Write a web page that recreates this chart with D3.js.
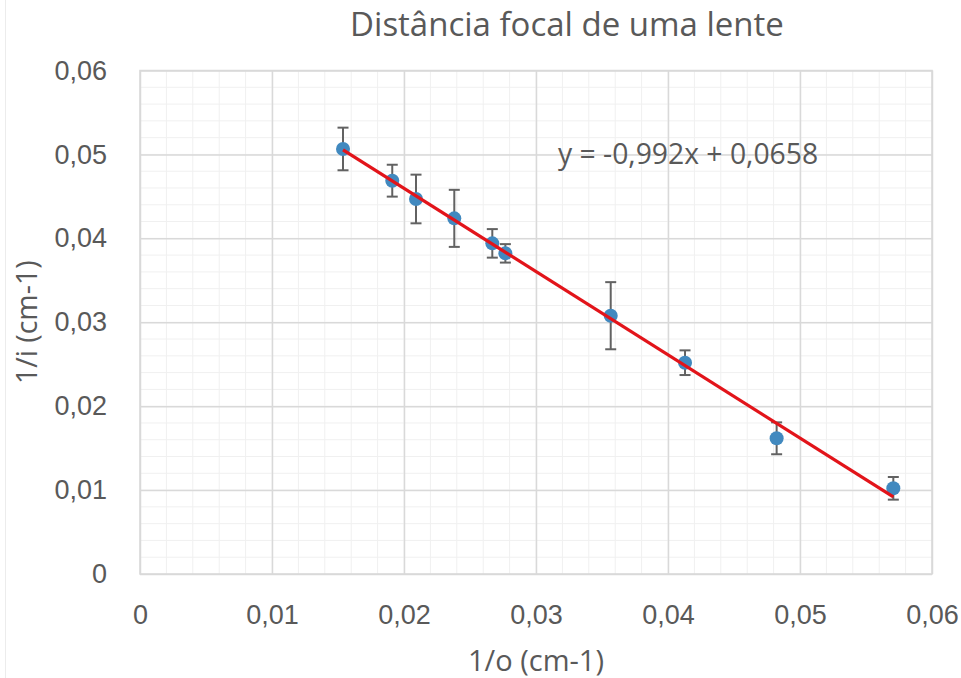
<!DOCTYPE html>
<html>
<head>
<meta charset="utf-8">
<script src="https://cdn.jsdelivr.net/npm/d3@7"></script>
<style>
  html, body { margin: 0; padding: 0; background: #fff; }
  svg { display: block; font-family: "Open Sans", "Noto Sans", sans-serif; }
</style>
</head>
<body>
<svg id="chart" width="961" height="678"></svg>
<script>
// Measurements: object distance inverse (1/o) vs image distance inverse (1/i)
const invObject = [0.01538, 0.01911, 0.02091, 0.02381, 0.02669, 0.02768, 0.03566, 0.04129, 0.04823, 0.05707];
const invImage  = [0.05065, 0.04687, 0.04469, 0.04238, 0.03940, 0.03821, 0.03078, 0.02518, 0.01617, 0.01021];
const invImageErr = [0.00254, 0.0019, 0.0029, 0.0034, 0.0017, 0.0011, 0.0040, 0.00147, 0.0019, 0.00135];

// Linear fit reported on the chart
const slope = -0.992;
const intercept = 0.0658;

const xTicks = [0, 0.01, 0.02, 0.03, 0.04, 0.05, 0.06];
const yTicks = [0, 0.01, 0.02, 0.03, 0.04, 0.05, 0.06];

const titleText = "Distância focal de uma lente";
const xTitle = "1/o (cm-1)";
const yTitle = "1/i (cm-1)";
const eqText = "y = -0,992x + 0,0658";

const svg = d3.select("#chart");
const W = 961, H = 678;
const margin = { left: 140, right: 961 - 932, top: 70.5, bottom: 678 - 574 };

const x = d3.scaleLinear().domain([0, 0.06]).range([margin.left, W - margin.right]);
const y = d3.scaleLinear().domain([0, 0.06]).range([H - margin.bottom, margin.top]);

const fmt = v => v === 0 ? "0" : d3.format(".2f")(v).replace(".", ",");
const textColor = "#595959";
const labelSize = "27px";

// faint frame edge on the left
svg.append("line").attr("x1", 5.5).attr("x2", 5.5).attr("y1", 0).attr("y2", H)
  .attr("stroke", "#ececec").attr("stroke-width", 1);

// minor grid
const minor = d3.range(0, 0.0601, 0.002);
const grid = svg.append("g");
grid.selectAll(".mx").data(minor).join("line")
  .attr("x1", d => x(d)).attr("x2", d => x(d))
  .attr("y1", y(0)).attr("y2", y(0.06))
  .attr("stroke", "#f0f0f0").attr("stroke-width", 1);
grid.selectAll(".my").data(minor).join("line")
  .attr("x1", x(0)).attr("x2", x(0.06))
  .attr("y1", d => y(d)).attr("y2", d => y(d))
  .attr("stroke", "#f0f0f0").attr("stroke-width", 1);

// major grid via axes
const xAxis = d3.axisBottom(x).tickValues(xTicks).tickFormat(fmt).tickSize(-(y(0) - y(0.06)));
const yAxis = d3.axisLeft(y).tickValues(yTicks).tickFormat(fmt).tickSize(-(x(0.06) - x(0))).tickPadding(33);

const gx = svg.append("g").attr("transform", `translate(0,${y(0)})`).call(xAxis);
const gy = svg.append("g").attr("transform", `translate(${x(0)},0)`).call(yAxis);
[gx, gy].forEach(g => {
  g.select(".domain").remove();
  g.selectAll(".tick line").attr("stroke", "#d9d9d9").attr("stroke-width", 1.5);
  g.selectAll(".tick text").attr("fill", textColor).style("font-size", labelSize);
});
gx.selectAll(".tick text").attr("y", 41).attr("dy", "0.35em");

// plot border
svg.append("rect")
  .attr("x", x(0)).attr("y", y(0.06))
  .attr("width", x(0.06) - x(0)).attr("height", y(0) - y(0.06))
  .attr("fill", "none").attr("stroke", "#d9d9d9").attr("stroke-width", 1.5);

const data = invObject.map((v, i) => ({ x: v, y: invImage[i], e: invImageErr[i] }));

// error bars
const eb = svg.append("g").attr("stroke", "#626262").attr("stroke-width", 2);
const cap = 5.5;
data.forEach(d => {
  eb.append("line").attr("x1", x(d.x)).attr("x2", x(d.x)).attr("y1", y(d.y + d.e)).attr("y2", y(d.y - d.e));
  eb.append("line").attr("x1", x(d.x) - cap).attr("x2", x(d.x) + cap).attr("y1", y(d.y + d.e)).attr("y2", y(d.y + d.e));
  eb.append("line").attr("x1", x(d.x) - cap).attr("x2", x(d.x) + cap).attr("y1", y(d.y - d.e)).attr("y2", y(d.y - d.e));
});

// markers
svg.append("g").selectAll("circle").data(data).join("circle")
  .attr("cx", d => x(d.x)).attr("cy", d => y(d.y)).attr("r", 7)
  .attr("fill", "#4189bf");

// trend line across the measured range
const xMin = d3.min(invObject), xMax = d3.max(invObject);
svg.append("line")
  .attr("x1", x(xMin)).attr("y1", y(slope * xMin + intercept))
  .attr("x2", x(xMax)).attr("y2", y(slope * xMax + intercept))
  .attr("stroke", "#e2141a").attr("stroke-width", 3.3);

// equation label
svg.append("text").attr("x", 558).attr("y", 164)
  .attr("fill", textColor).style("font-size", "28.3px").text(eqText);

// title
svg.append("text").attr("x", 567).attr("y", 36).attr("text-anchor", "middle")
  .attr("fill", textColor).style("font-size", "33px").text(titleText);

// axis titles
svg.append("text").attr("x", 536).attr("y", 671).attr("text-anchor", "middle")
  .attr("fill", textColor).style("font-size", "29px").text(xTitle);
svg.append("text").attr("transform", `translate(37,${(y(0) + y(0.06)) / 2}) rotate(-90)`)
  .attr("text-anchor", "middle")
  .attr("fill", textColor).style("font-size", "28.5px").text(yTitle);
</script>
</body>
</html>
